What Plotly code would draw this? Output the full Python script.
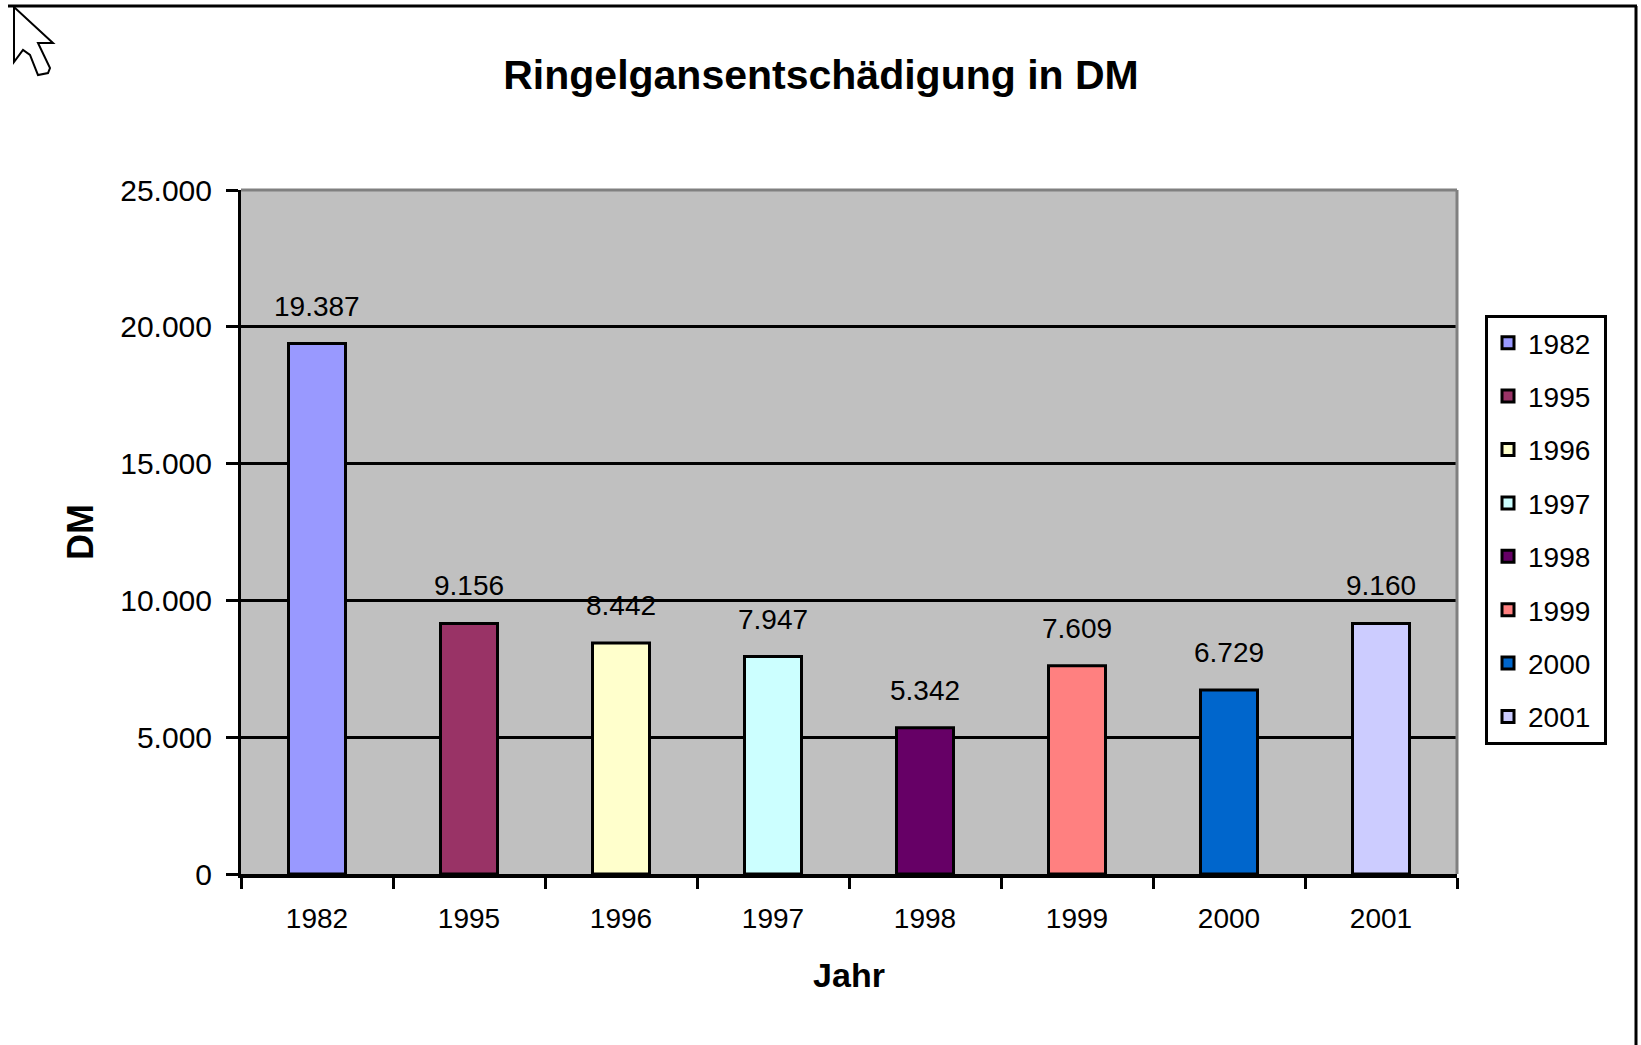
import plotly.graph_objects as go

W, H = 1641, 1045
L, R, T, B = 241, 1457, 190, 874
years = ["1982", "1995", "1996", "1997", "1998", "1999", "2000", "2001"]
values = [19387, 9156, 8442, 7947, 5342, 7609, 6729, 9160]
colors = ["#9999FF", "#993366", "#FFFFCC", "#CCFFFF", "#660066", "#FF8080", "#0066CC", "#CCCCFF"]
y_ticks = [0, 5000, 10000, 15000, 20000, 25000]
cursor_px = "M14,7 L14,62 L23,50 L30,55 L38,75 L48,73 L50,68 L38,43 L53,43 Z"

def fx(x):
    return (x - L) / (R - L)

def fy(y):
    return (B - y) / (B - T)

def cursor_path():
    out = []
    for part in cursor_px.split():
        cmd = part[0]
        if cmd == "Z":
            out.append("Z")
            continue
        x, y = map(float, part[1:].split(","))
        out.append(f"{cmd}{fx(x):.5f},{fy(y):.5f}")
    return " ".join(out)

FONT = "Liberation Sans"
fig = go.Figure()
for yr, v, c in zip(years, values, colors):
    fig.add_bar(x=[yr], y=[v], name=yr + "\u00a0", legendgroup=yr, width=0.375,
                marker=dict(color=c, line=dict(color="black", width=3)),
                hoverinfo="x+y")

annotations = [dict(x=i, y=v, xref="x", yref="y", text=f"{v:,}".replace(",", "."),
                    showarrow=False, yanchor="bottom", yshift=20,
                    font=dict(family=FONT, size=28, color="black"))
               for i, v in enumerate(values)]

paper = dict(xref="paper", yref="paper")
shapes = [
    dict(type="line", **paper, x0=fx(L), x1=fx(R), y0=fy(T), y1=fy(T), line=dict(color="#808080", width=3)),
    dict(type="line", **paper, x0=fx(R), x1=fx(R), y0=fy(T), y1=fy(B), line=dict(color="#808080", width=3)),
    dict(type="line", **paper, x0=fx(8), x1=fx(1637), y0=fy(6), y1=fy(6), line=dict(color="black", width=3)),
    dict(type="line", **paper, x0=fx(1636), x1=fx(1636), y0=fy(6), y1=fy(1045), line=dict(color="black", width=3)),
    dict(type="path", **paper, path=cursor_path(), fillcolor="white", line=dict(color="black", width=2)),
]

fig.update_layout(
    width=W, height=H, barmode="overlay", separators=",.",
    paper_bgcolor="white", plot_bgcolor="#C0C0C0",
    margin=dict(l=L, r=W-R, t=T, b=H-B, autoexpand=False),
    font=dict(family=FONT, color="black", size=28),
    title=dict(text="<b>Ringelgansentschädigung in DM</b>", xref="container", yref="container",
               x=821/W, xanchor="center", y=1-75/H, yanchor="middle",
               font=dict(family=FONT, size=41, color="black")),
    legend=dict(x=fx(1485), y=fy(315), xanchor="left", yanchor="top", traceorder="grouped",
                tracegroupgap=14, bgcolor="white", bordercolor="black", borderwidth=3,
                font=dict(family=FONT, size=28, color="black")),
    annotations=annotations, shapes=shapes,
    xaxis=dict(type="category", categoryorder="array", categoryarray=years, range=[-0.5, 7.5],
               tickson="boundaries", tickangle=0,
               ticks="outside", ticklen=11, tickwidth=3, tickcolor="black",
               showline=True, linewidth=4, linecolor="black", showgrid=False,
               ticklabelstandoff=16,
               title=dict(text="<b>Jahr</b>", standoff=32, font=dict(family=FONT, size=34))),
    yaxis=dict(range=[0, 25000], tickvals=y_ticks, tickformat=",d",
               tickfont=dict(family=FONT, size=30),
               ticks="outside", ticklen=12, tickwidth=3, tickcolor="black",
               showline=True, linewidth=3, linecolor="black",
               showgrid=True, gridcolor="black", gridwidth=3, zeroline=False,
               ticklabelstandoff=8,
               title=dict(text="<b>DM</b>", standoff=16, font=dict(family=FONT, size=36))),
)

fig.write_html("out.html", config={"displayModeBar": False},
               post_script="document.body.style.margin='0';document.body.style.overflow='hidden';")
